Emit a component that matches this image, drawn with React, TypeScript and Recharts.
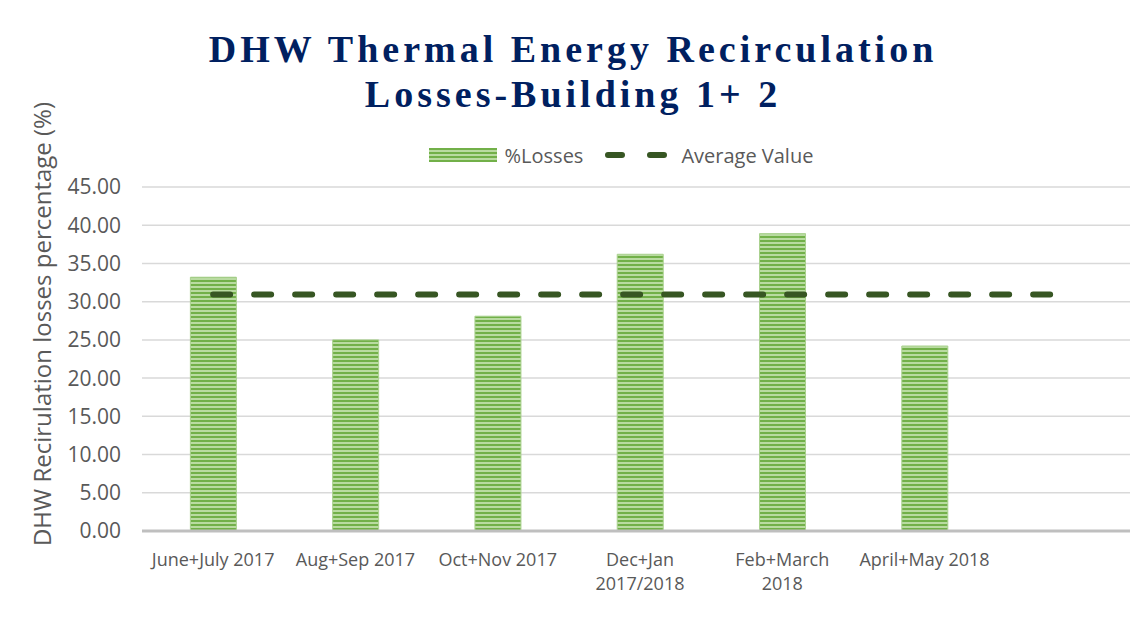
import React from 'react';
import {
  Bar,
  CartesianGrid,
  ComposedChart,
  Legend,
  Line,
  XAxis,
  YAxis,
} from 'recharts';

const categories = [
  'June+July 2017',
  'Aug+Sep 2017',
  'Oct+Nov 2017',
  'Dec+Jan 2017/2018',
  'Feb+March 2018',
  'April+May 2018',
  '',
];

// how Excel broke the long labels
const tickLines: string[][] = [
  ['June+July 2017'],
  ['Aug+Sep 2017'],
  ['Oct+Nov 2017'],
  ['Dec+Jan', '2017/2018'],
  ['Feb+March', '2018'],
  ['April+May 2018'],
  [''],
];

const losses = [33.2, 25.0, 28.1, 36.2, 38.9, 24.2, null];
const average = [30.93, 30.93, 30.93, 30.93, 30.93, 30.93, 30.93];

const yTicks = [0, 5, 10, 15, 20, 25, 30, 35, 40, 45];

const data = categories.map((name, i) => ({
  name,
  losses: losses[i],
  avg: average[i],
}));

const GREY = '#595959';
const FONT = '"Open Sans", sans-serif';

function XTick(props: any) {
  const { x, y, index } = props;
  const lines = tickLines[index] || [];
  return (
    <text
      x={x}
      y={y}
      textAnchor="middle"
      fill={GREY}
      fontSize={18}
      fontFamily={FONT}
    >
      {lines.map((l, i) => (
        <tspan key={i} x={x} y={y + 27 + i * 24}>
          {l}
        </tspan>
      ))}
    </text>
  );
}

function YLabel(props: any) {
  const { viewBox } = props;
  const cx = 33;
  const cy = viewBox.y + viewBox.height / 2 - 35;
  return (
    <text
      x={cx}
      y={cy}
      transform={`rotate(-90 ${cx} ${cy})`}
      textAnchor="middle"
      dominantBaseline="central"
      fill={GREY}
      fontSize={24}
      fontFamily={FONT}
    >
      DHW Recirulation losses percentage (%)
    </text>
  );
}

function LegendBox() {
  return (
    <div
      style={{
        height: 64,
        display: 'flex',
        justifyContent: 'center',
        alignItems: 'center',
        fontFamily: FONT,
        fontSize: 20,
        color: GREY,
        paddingLeft: 82,
      }}
    >
      <svg width={68} height={14} style={{ marginRight: 8 }}>
        <rect width={68} height={14} fill="url(#stripes)" />
      </svg>
      <span style={{ marginRight: 20 }}>%Losses</span>
      <svg width={66} height={10} style={{ marginRight: 12 }}>
        <line
          x1={5}
          y1={5}
          x2={62}
          y2={5}
          stroke="#375623"
          strokeWidth={6}
          strokeLinecap="round"
          strokeDasharray="14 28"
        />
      </svg>
      <span>Average Value</span>
    </div>
  );
}

export default function App() {
  return (
    <div style={{ position: 'relative', width: 1130, height: 622 }}>
      <div
        style={{
          position: 'absolute',
          left: -1,
          top: -2,
          width: 1140,
          height: 640,
          borderLeft: '1px solid #d9d9d9',
          borderTop: '1px solid #d9d9d9',
        }}
      />
      <div
        style={{
          position: 'absolute',
          left: 0,
          top: 19,
          width: 1130,
          textAlign: 'center',
          fontFamily: '"Liberation Serif", serif',
          fontWeight: 'bold',
          fontSize: 38,
          lineHeight: '45px',
          letterSpacing: 4,
          color: '#002060',
        }}
      >
        DHW Thermal Energy Recirculation
        <br />
        Losses-Building 1+ 2
      </div>
      <ComposedChart
        width={1130}
        height={622}
        data={data}
        margin={{ top: 115, right: 0, bottom: 9, left: 14 }}
        barCategoryGap="34%"
      >
        <defs>
          <pattern
            id="stripes"
            width={8}
            height={4}
            patternUnits="userSpaceOnUse"
          >
            <rect width={8} height={4} fill="#b9dba1" />
            <rect width={8} height={2} fill="#72b049" />
          </pattern>
        </defs>
        <CartesianGrid vertical={false} stroke="#d9d9d9" strokeWidth={1.5} />
        <XAxis
          dataKey="name"
          height={90}
          tick={<XTick />}
          tickLine={false}
          axisLine={{ stroke: '#bfbfbf', strokeWidth: 3 }}
          interval={0}
        />
        <YAxis
          width={120}
          domain={[0, 45]}
          ticks={yTicks}
          tickFormatter={(v) => v.toFixed(2)}
          tick={{ fill: GREY, fontSize: 21, fontFamily: FONT }}
          tickLine={false}
          tickSize={0}
          tickMargin={21}
          axisLine={false}
          label={<YLabel />}
        />
        <Legend verticalAlign="top" content={() => <LegendBox />} />
        <Bar
          dataKey="losses"
          fill="url(#stripes)"
          stroke="#a9d18e"
          strokeWidth={1}
          isAnimationActive={false}
        />
        <Line
          dataKey="avg"
          stroke="#375623"
          strokeWidth={6}
          strokeLinecap="round"
          strokeDasharray="17 24"
          dot={false}
          activeDot={false}
          isAnimationActive={false}
        />
      </ComposedChart>
    </div>
  );
}
